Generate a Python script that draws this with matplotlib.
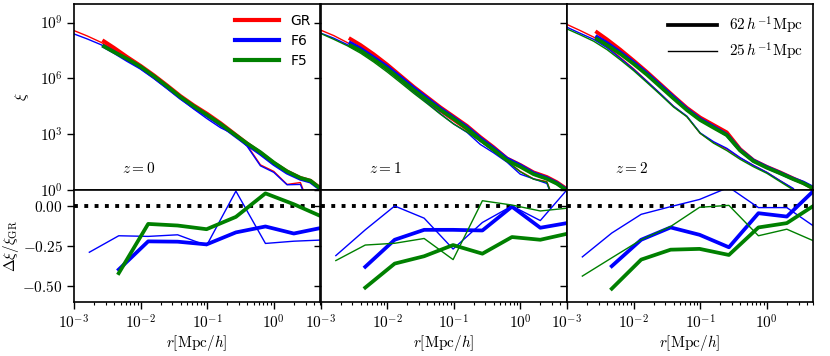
import numpy as np
import matplotlib
matplotlib.use("Agg")
import matplotlib.pyplot as plt
from matplotlib.lines import Line2D
from matplotlib.ticker import FixedLocator, NullFormatter, LogLocator, NullLocator

plt.rcParams['mathtext.fontset'] = 'cm'
plt.rcParams['font.family'] = ['DejaVu Sans']

# ---------------- data ----------------
redshifts = [0, 1, 2]
models = ["GR", "F6", "F5"]
colors = {"GR": "red", "F6": "blue", "F5": "green"}

# log10 r grids for the top panels
logr_thick = [-2.55, -2.4, -2.2, -2.0, -1.8, -1.6, -1.4, -1.2, -1.0, -0.8, -0.6,
              -0.4, -0.2, 0.0, 0.2, 0.4, 0.55, 0.7]
logr_thin = [-3.0, -2.8, -2.6, -2.4, -2.2, -2.0, -1.8, -1.6, -1.4, -1.2, -1.0,
             -0.8, -0.6, -0.4, -0.2, 0.0, 0.2, 0.4, 0.55, 0.7]
nan = np.nan

# log10 xi, 62 Mpc/h box (thick)
xi_thick_z0_GR = [8.0, 7.65, 7.15, 6.68, 6.17, 5.62, 5.05, 4.55, 4.1, 3.6, 3.05, 2.5, 2.0, 1.45, 1.0, 0.65, 0.5, 0.1]
xi_thick_z0_F6 = [7.72, 7.42, 6.98, 6.57, 6.07, 5.52, 4.95, 4.45, 4.0, 3.52, 2.98, 2.45, 1.95, 1.4, 0.93, 0.6, 0.45, 0.05]
xi_thick_z0_F5 = [7.72, 7.42, 7.05, 6.63, 6.12, 5.57, 5.0, 4.5, 4.03, 3.55, 3.02, 2.5, 2.03, 1.48, 1.0, 0.65, 0.5, 0.08]
xi_thick_z1_GR = [8.12, 7.8, 7.3, 6.75, 6.15, 5.55, 5.0, 4.45, 3.95, 3.45, 2.85, 2.3, 1.7, 1.35, 0.95, 0.7, 0.42, 0.05]
xi_thick_z1_F6 = [7.9, 7.6, 7.12, 6.63, 6.06, 5.48, 4.93, 4.38, 3.88, 3.38, 2.78, 2.24, 1.68, 1.32, 0.9, 0.64, 0.37, 0.0]
xi_thick_z1_F5 = [7.77, 7.5, 7.02, 6.52, 5.95, 5.38, 4.84, 4.31, 3.83, 3.31, 2.7, 2.17, 1.6, 1.25, 0.85, 0.6, 0.34, -0.03]
xi_thick_z2_GR = [8.48, 8.1, 7.55, 6.96, 6.35, 5.7, 5.05, 4.42, 3.9, 3.5, 3.1, 2.2, 1.6, 1.25, 0.95, 0.62, 0.38, 0.08]
xi_thick_z2_F6 = [8.23, 7.9, 7.4, 6.86, 6.27, 5.63, 4.99, 4.35, 3.81, 3.4, 2.97, 2.15, 1.58, 1.23, 0.92, 0.6, 0.4, 0.12]
xi_thick_z2_F5 = [8.12, 7.8, 7.32, 6.78, 6.2, 5.56, 4.92, 4.3, 3.76, 3.35, 2.95, 2.12, 1.55, 1.2, 0.9, 0.58, 0.36, 0.08]

# log10 xi, 25 Mpc/h box (thin)
xi_thin_z0_GR = [8.57, 8.28, 7.95, 7.55, 7.1, 6.62, 6.1, 5.55, 5.0, 4.5, 3.95, 3.45, 2.95, 2.4, 1.35, 1.0, 0.3, 0.4, -1.0, nan]
xi_thin_z0_F6 = [8.39, 8.12, 7.82, 7.45, 7.0, 6.52, 6.0, 5.45, 4.9, 4.35, 3.83, 3.35, 3.0, 2.35, 1.3, 0.95, 0.28, 0.3, -1.0, nan]
xi_thin_z1_GR = [8.6, 8.3, 7.93, 7.5, 7.0, 6.45, 5.88, 5.3, 4.75, 4.2, 3.7, 3.2, 2.62, 2.1, 1.55, 1.0, 0.6, 0.45, -1.0, nan]
xi_thin_z1_F6 = [8.44, 8.16, 7.82, 7.45, 6.97, 6.44, 5.87, 5.27, 4.7, 4.1, 3.55, 3.1, 2.45, 2.0, 1.5, 0.85, 0.6, 0.35, -1.0, nan]
xi_thin_z1_F5 = [8.42, 8.1, 7.76, 7.36, 6.88, 6.35, 5.78, 5.2, 4.65, 4.08, 3.55, 3.12, 2.62, 2.08, 1.55, 0.98, 0.58, 0.42, -1.0, nan]
xi_thin_z2_GR = [8.9, 8.57, 8.22, 7.72, 7.12, 6.52, 5.85, 5.18, 4.5, 3.95, 3.05, 2.55, 2.2, 1.72, 1.32, 0.95, 0.5, 0.05, -1.0, nan]
xi_thin_z2_F6 = [8.75, 8.42, 8.1, 7.65, 7.08, 6.48, 5.84, 5.18, 4.5, 3.97, 3.07, 2.6, 2.24, 1.74, 1.32, 0.95, 0.5, 0.08, -1.0, nan]
xi_thin_z2_F5 = [8.66, 8.34, 8.0, 7.55, 7.0, 6.42, 5.78, 5.13, 4.46, 3.94, 3.05, 2.52, 2.12, 1.65, 1.25, 0.9, 0.45, 0.0, -1.0, nan]

# relative differences (bottom panels)
r_bins_thin = [1.7e-3, 4.7e-3, 1.3e-2, 3.6e-2, 9.8e-2, 0.27, 0.75, 2.0, 5.0]
r_bins_thick = [4.7e-3, 1.3e-2, 3.6e-2, 9.8e-2, 0.27, 0.75, 2.0, 5.0]

dxi_thin_z0_F6 = [-0.289, -0.186, -0.19, -0.18, -0.247, 0.093, -0.234, -0.22, -0.213]
dxi_thick_z0_F6 = [-0.397, -0.221, -0.223, -0.24, -0.165, -0.128, -0.172, -0.138]
dxi_thick_z0_F5 = [-0.42, -0.112, -0.122, -0.145, -0.068, 0.079, 0.011, -0.062]

dxi_thin_z1_F6 = [-0.31, -0.149, 0.0, -0.076, -0.269, -0.103, 0.0, -0.091, 0.10]
dxi_thin_z1_F5 = [-0.341, -0.244, -0.233, -0.203, -0.335, 0.033, 0.006, -0.031, -0.014]
dxi_thick_z1_F6 = [-0.380, -0.211, -0.149, -0.149, -0.153, -0.004, -0.136, -0.107]
dxi_thick_z1_F5 = [-0.510, -0.360, -0.314, -0.244, -0.298, -0.194, -0.211, -0.174]

dxi_thin_z2_F6 = [-0.318, -0.169, -0.052, -0.004, 0.041, 0.117, -0.010, -0.010, -0.124]
dxi_thin_z2_F5 = [-0.438, -0.324, -0.211, -0.128, -0.008, 0.004, -0.186, -0.145, -0.217]
dxi_thick_z2_F6 = [-0.376, -0.211, -0.134, -0.180, -0.258, -0.045, -0.066, 0.093]
dxi_thick_z2_F5 = [-0.517, -0.335, -0.273, -0.268, -0.306, -0.134, -0.107, 0.0]

top_thick = {0: {"GR": xi_thick_z0_GR, "F6": xi_thick_z0_F6, "F5": xi_thick_z0_F5},
             1: {"GR": xi_thick_z1_GR, "F6": xi_thick_z1_F6, "F5": xi_thick_z1_F5},
             2: {"GR": xi_thick_z2_GR, "F6": xi_thick_z2_F6, "F5": xi_thick_z2_F5}}
top_thin = {0: {"GR": xi_thin_z0_GR, "F6": xi_thin_z0_F6},
            1: {"GR": xi_thin_z1_GR, "F6": xi_thin_z1_F6, "F5": xi_thin_z1_F5},
            2: {"GR": xi_thin_z2_GR, "F6": xi_thin_z2_F6, "F5": xi_thin_z2_F5}}
bot_thick = {0: {"F6": dxi_thick_z0_F6, "F5": dxi_thick_z0_F5},
             1: {"F6": dxi_thick_z1_F6, "F5": dxi_thick_z1_F5},
             2: {"F6": dxi_thick_z2_F6, "F5": dxi_thick_z2_F5}}
bot_thin = {0: {"F6": dxi_thin_z0_F6},
            1: {"F6": dxi_thin_z1_F6, "F5": dxi_thin_z1_F5},
            2: {"F6": dxi_thin_z2_F6, "F5": dxi_thin_z2_F5}}

xticks = [1e-3, 1e-2, 1e-1, 1e0]
xticklabels = [r'$10^{-3}$', r'$10^{-2}$', r'$10^{-1}$', r'$10^{0}$']
yticks_top = [1e0, 1e3, 1e6, 1e9]
yticklabels_top = [r'$10^{0}$', r'$10^{3}$', r'$10^{6}$', r'$10^{9}$']
yticks_bot = [0.0, -0.25, -0.5]
yticklabels_bot = [r'$0.00$', r'$-0.25$', r'$-0.50$']

# ---------------- figure ----------------
W, H = 830, 356
fig = plt.figure(figsize=(W / 100, H / 100), dpi=100)
lefts = [74, 320.5, 567]
pw = 246.3
top_y0, top_y1 = 4, 190
bot_y1 = 302
LW_THICK, LW_THIN = 2.7, 1.0
FS = 11

for i, z in enumerate(redshifts):
    axt = fig.add_axes([lefts[i] / W, (H - top_y1) / H, pw / W, (top_y1 - top_y0) / H])
    axb = fig.add_axes([lefts[i] / W, (H - bot_y1) / H, pw / W, (bot_y1 - top_y1) / H])

    for m in models:
        if m in top_thin[z]:
            axt.plot(10 ** np.array(logr_thin), 10 ** np.array(top_thin[z][m]),
                     color=colors[m], lw=LW_THIN)
    for m in models:
        axt.plot(10 ** np.array(logr_thick), 10 ** np.array(top_thick[z][m]),
                 color=colors[m], lw=LW_THICK)

    axb.axhline(0.0, color='black', ls=':', lw=2.8)
    for m in ["F6", "F5"]:
        if m in bot_thin[z]:
            axb.plot(r_bins_thin, bot_thin[z][m], color=colors[m], lw=LW_THIN)
        axb.plot(r_bins_thick, bot_thick[z][m], color=colors[m], lw=LW_THICK)

    for ax in (axt, axb):
        ax.set_xscale('log')
        ax.set_xlim(1e-3, 5)
    axt.set_yscale('log')
    axt.set_ylim(1, 1e10)
    axt.yaxis.set_major_locator(FixedLocator(yticks_top))
    axt.yaxis.set_minor_locator(NullLocator())
    axt.set_xticks(xticks)
    axt.xaxis.set_minor_locator(NullLocator())
    axt.set_xticklabels([])
    axb.set_ylim(-0.6, 0.1)
    axb.set_yticks(yticks_bot)
    axb.set_xticks(xticks)
    axb.set_xticklabels(xticklabels, fontsize=FS)
    axb.xaxis.set_minor_locator(LogLocator(base=10, subs=np.arange(2, 10), numticks=20))
    axb.xaxis.set_minor_formatter(NullFormatter())
    if i == 0:
        axt.set_yticklabels(yticklabels_top, fontsize=FS)
        axb.set_yticklabels(yticklabels_bot, fontsize=FS)
        axt.set_ylabel(r'$\xi$', fontsize=FS)
        axb.set_ylabel(r'$\Delta\xi/\xi_{\rm GR}$', fontsize=FS)
        axt.yaxis.set_label_coords(-0.175, 0.5)
        axb.yaxis.set_label_coords(-0.215, 0.5)
    else:
        axt.set_yticklabels([])
        axb.set_yticklabels([])
    axb.set_xlabel(r'$r[{\rm Mpc}/h]$', fontsize=FS, labelpad=1)
    for ax in (axt, axb):
        for s in ax.spines.values():
            s.set_linewidth(1.2)
        ax.tick_params(which='major', length=5, width=1.0, pad=3)
        ax.tick_params(which='minor', length=2.5, width=0.8)
    axt.text(0.195, 0.118, r'$z=%d$' % z, transform=axt.transAxes, fontsize=FS,
             va='center', ha='left')

    if i == 0:
        handles = [Line2D([], [], color=colors[m], lw=3) for m in models]
        axt.legend(handles, models, loc='upper right', frameon=False, fontsize=10,
                   handlelength=3.2, labelspacing=0.45, borderaxespad=0.3)
    if i == 2:
        handles = [Line2D([], [], color='black', lw=LW_THICK),
                   Line2D([], [], color='black', lw=LW_THIN)]
        labels = [r'$62\,h^{-1}{\rm Mpc}$', r'$25\,h^{-1}{\rm Mpc}$']
        axt.legend(handles, labels, loc='upper right', frameon=False, fontsize=FS,
                   handlelength=3.2, labelspacing=0.3, borderaxespad=0.3)

fig.savefig('out.png', dpi=100)
